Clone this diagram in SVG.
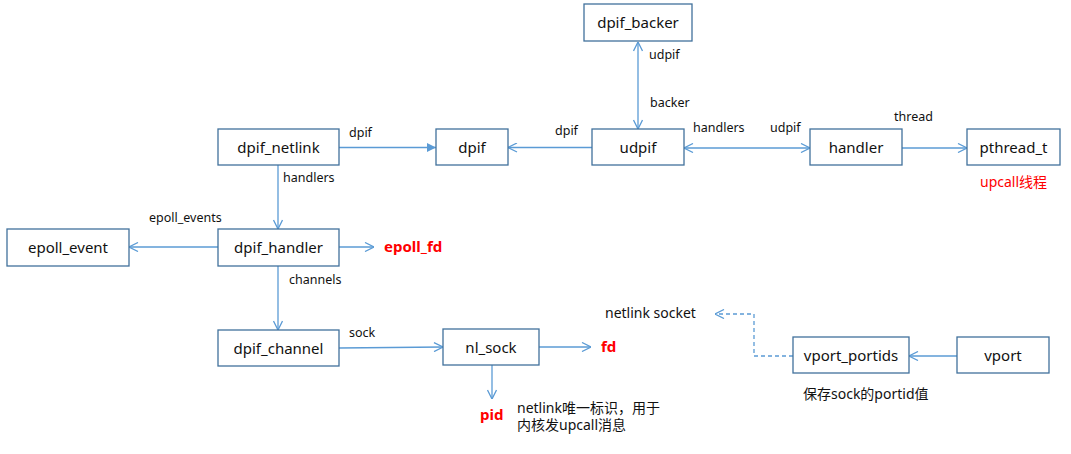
<svg xmlns="http://www.w3.org/2000/svg" width="1071" height="454" viewBox="0 0 1071 454">
<style>
  .box { fill: #ffffff; stroke: #41719C; stroke-width: 1.3; }
  .nt { font-family: "Noto Sans", "Noto Sans CJK SC", sans-serif; font-size: 15px; fill: #111111; text-anchor: middle; }
  .lb { font-family: "Noto Sans", "Noto Sans CJK SC", sans-serif; font-size: 12.5px; fill: #111111; }
  .red { font-family: "Noto Sans", "Noto Sans CJK SC", sans-serif; font-size: 15px; fill: #FF0000; font-weight: bold; }
  .redn { font-family: "Noto Sans", "Noto Sans CJK SC", sans-serif; font-size: 14px; fill: #FF0000; }
  .cn { font-family: "Noto Sans", "Noto Sans CJK SC", sans-serif; font-size: 14px; fill: #111111; }
  .ln { fill: none; stroke: #5B9BD5; stroke-width: 1.3; }
  .dash { fill: none; stroke: #5B9BD5; stroke-width: 1.3; stroke-dasharray: 4 3; }
</style>
<defs>
  <marker id="open" viewBox="0 0 10 10" refX="10" refY="5" markerWidth="10" markerHeight="10" markerUnits="userSpaceOnUse" orient="auto-start-reverse">
    <path d="M1,0.5 L10,5 L1,9.5" fill="none" stroke="#5B9BD5" stroke-width="1.3"/>
  </marker>
  <marker id="solid" viewBox="0 0 10 10" refX="10" refY="5" markerWidth="9" markerHeight="9" markerUnits="userSpaceOnUse" orient="auto">
    <path d="M0,0 L10,5 L0,10 z" fill="#5B9BD5"/>
  </marker>
</defs>
<rect width="1071" height="454" fill="#ffffff"/>

<g id="connectors">
  <line class="ln" x1="339" y1="147.5" x2="436" y2="147.5" marker-end="url(#solid)"/>
  <line class="ln" x1="592" y1="147.5" x2="508" y2="147.5" marker-end="url(#open)"/>
  <line class="ln" x1="638" y1="42" x2="638" y2="129" marker-start="url(#open)" marker-end="url(#open)"/>
  <line class="ln" x1="684" y1="148" x2="810" y2="148" marker-start="url(#open)" marker-end="url(#open)"/>
  <line class="ln" x1="902" y1="148" x2="967" y2="148" marker-end="url(#open)"/>
  <line class="ln" x1="278" y1="165" x2="278" y2="229" marker-end="url(#open)"/>
  <line class="ln" x1="218" y1="247" x2="129" y2="247" marker-end="url(#open)"/>
  <line class="ln" x1="339" y1="247" x2="374" y2="247" marker-end="url(#open)"/>
  <line class="ln" x1="278" y1="266" x2="278" y2="330" marker-end="url(#open)"/>
  <line class="ln" x1="339" y1="348" x2="443" y2="347" marker-end="url(#open)"/>
  <line class="ln" x1="539" y1="347" x2="591" y2="347" marker-end="url(#open)"/>
  <line class="ln" x1="492" y1="365" x2="492" y2="399" marker-end="url(#open)"/>
  <line class="ln" x1="957" y1="356" x2="909" y2="356" marker-end="url(#open)"/>
  <polyline class="dash" points="793,356 754,356 754,314 715,314" marker-end="url(#open)"/>
</g>

<g id="labels">
  <text class="lb" x="349" y="137">dpif</text>
  <text class="lb" x="555" y="135">dpif</text>
  <text class="lb" x="649" y="59">udpif</text>
  <text class="lb" x="650" y="107">backer</text>
  <text class="lb" x="693" y="132">handlers</text>
  <text class="lb" x="770" y="132">udpif</text>
  <text class="lb" x="894" y="121">thread</text>
  <text class="lb" x="283" y="182">handlers</text>
  <text class="lb" x="149" y="222">epoll_events</text>
  <text class="lb" x="289" y="284">channels</text>
  <text class="lb" x="349" y="337">sock</text>
  <text class="cn" x="605" y="318">netlink socket</text>
  <text class="cn" x="803" y="399">保存sock的portid值</text>
  <text class="cn" x="517" y="413">netlink唯一标识，用于</text>
  <text class="cn" x="517" y="430">内核发upcall消息</text>
  <text class="red" x="384" y="252">epoll_fd</text>
  <text class="red" x="601" y="352">fd</text>
  <text class="red" x="480" y="420">pid</text>
  <text class="redn" x="980" y="187">upcall线程</text>
</g>

<g id="dpif_backer"><rect class="box" x="584" y="4" width="108" height="37"/><text class="nt" x="638" y="28">dpif_backer</text></g>
<g id="dpif_netlink"><rect class="box" x="218" y="129" width="121" height="36"/><text class="nt" x="278.5" y="152.5">dpif_netlink</text></g>
<g id="dpif"><rect class="box" x="436" y="129" width="72" height="36"/><text class="nt" x="472" y="152.5">dpif</text></g>
<g id="udpif"><rect class="box" x="592" y="129" width="92" height="36"/><text class="nt" x="638" y="152.5">udpif</text></g>
<g id="handler"><rect class="box" x="810" y="129" width="92" height="36"/><text class="nt" x="856" y="152.5">handler</text></g>
<g id="pthread_t"><rect class="box" x="967" y="129" width="93" height="36"/><text class="nt" x="1013.5" y="152.5">pthread_t</text></g>
<g id="epoll_event"><rect class="box" x="7" y="229" width="122" height="37"/><text class="nt" x="68" y="252.5">epoll_event</text></g>
<g id="dpif_handler"><rect class="box" x="218" y="229" width="121" height="37"/><text class="nt" x="278.5" y="252.5">dpif_handler</text></g>
<g id="dpif_channel"><rect class="box" x="218" y="330" width="121" height="36"/><text class="nt" x="278.5" y="353.5">dpif_channel</text></g>
<g id="nl_sock"><rect class="box" x="443" y="329" width="96" height="36"/><text class="nt" x="491" y="352.5">nl_sock</text></g>
<g id="vport_portids"><rect class="box" x="793" y="337" width="116" height="36"/><text class="nt" x="851" y="360.5">vport_portids</text></g>
<g id="vport"><rect class="box" x="957" y="337" width="92" height="36"/><text class="nt" x="1003" y="360.5">vport</text></g>
</svg>
